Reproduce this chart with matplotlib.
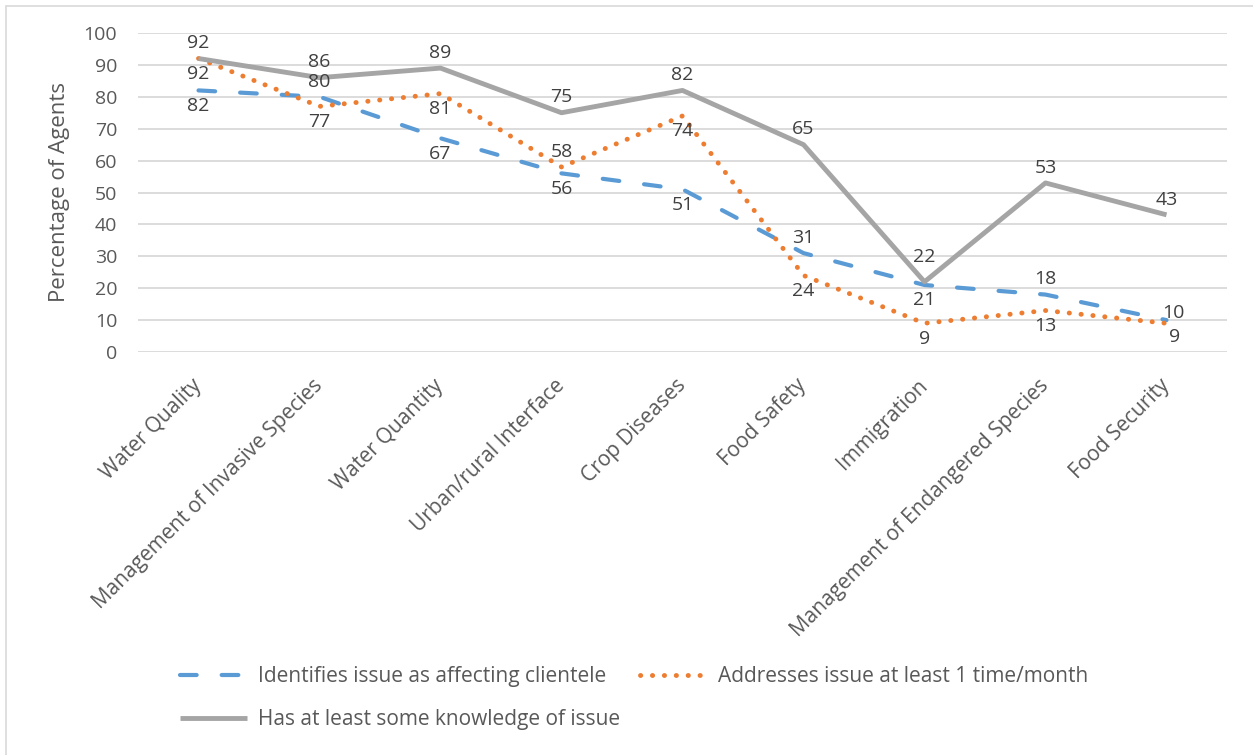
import matplotlib
matplotlib.use("Agg")
import matplotlib.pyplot as plt
from matplotlib.patches import Rectangle

plt.rcParams['font.family'] = ['Open Sans', 'DejaVu Sans']

issues = ["Water Quality", "Management of Invasive Species", "Water Quantity",
          "Urban/rural Interface", "Crop Diseases", "Food Safety", "Immigration",
          "Management of Endangered Species", "Food Security"]

identifies = [82, 80, 67, 56, 51, 31, 21, 18, 10]
addresses = [92, 77, 81, 58, 74, 24, 9, 13, 9]
knowledge = [92, 86, 89, 75, 82, 65, 22, 53, 43]

yticks = list(range(0, 101, 10))

# where each value label sits relative to its point:
# a = above, h = higher above, b = below, r = above right, s = below right
place_identifies = ["b", "a", "b", "b", "b", "a", "b", "a", "r"]
place_addresses = ["b", "b", "b", "a", "b", "b", "b", "b", "s"]
place_knowledge = ["a", "a", "a", "a", "a", "a", "h", "a", "a"]

BLUE, ORANGE, GRAY = "#5B9BD5", "#ED7D31", "#A5A5A5"
TXT = "#595959"
LBL = "#404040"

fig = plt.figure(figsize=(12.53, 7.55), dpi=100)
ax = fig.add_axes([138 / 1253, 1 - 352 / 755, (1227 - 138) / 1253, (352 - 33) / 755])

x = list(range(len(issues)))

l1, = ax.plot(x, identifies, color=BLUE, lw=3.0, dashes=(4.0, 6.0),
              dash_capstyle="round", label="Identifies issue as affecting clientele", zorder=3)
l2, = ax.plot(x, addresses, color=ORANGE, lw=3.5, dashes=(0.05, 2.4),
              dash_capstyle="round", label="Addresses issue at least 1 time/month", zorder=4)
l3, = ax.plot(x, knowledge, color=GRAY, lw=3.5, solid_capstyle="butt",
              label="Has at least some knowledge of issue", zorder=5)

offsets = {"a": (0, 11), "h": (0, 18), "b": (0, -11), "r": (5, 5), "s": (6, -10)}
for vals, places in [(identifies, place_identifies), (addresses, place_addresses),
                     (knowledge, place_knowledge)]:
    for xi, v, p in zip(x, vals, places):
        ax.annotate(str(v), (xi, v), xytext=offsets[p], textcoords="offset points",
                    ha="center", va="center", fontsize=14, color=LBL, zorder=6)

ax.set_xlim(-0.5, len(issues) - 0.5)
ax.set_ylim(0, 100)
ax.set_yticks(yticks)
ax.yaxis.grid(True, color="#D9D9D9", lw=1.3)
ax.set_axisbelow(True)
for s in ax.spines.values():
    s.set_visible(False)
ax.tick_params(axis="both", length=0, labelcolor=TXT)
ax.tick_params(axis="y", pad=15, labelsize=14)
ax.tick_params(axis="x", pad=22, labelsize=15)
ax.set_xticks(x)
ax.set_xticklabels(issues, rotation=45, ha="right", va="center", rotation_mode="anchor")
ax.set_ylabel("Percentage of Agents", fontsize=16, color=TXT, labelpad=10)

leg = fig.legend([l1, l3, l2], [l1.get_label(), l3.get_label(), l2.get_label()],
                 ncol=2, loc="upper left", bbox_to_anchor=(180 / 1253, 1 - 666 / 755),
                 frameon=False, fontsize=15, handlelength=3.2, handletextpad=0.55,
                 labelspacing=1.05, columnspacing=0.95, borderpad=0, borderaxespad=0)
for t in leg.get_texts():
    t.set_color(TXT)

# thin chart-area border
fig.patches.append(Rectangle((6 / 1253, -0.05), 1.1, 1 - 6 / 755 + 0.05,
                             transform=fig.transFigure, fill=False,
                             edgecolor="#D9D9D9", lw=1.2))

fig.savefig("out.png", dpi=100)
